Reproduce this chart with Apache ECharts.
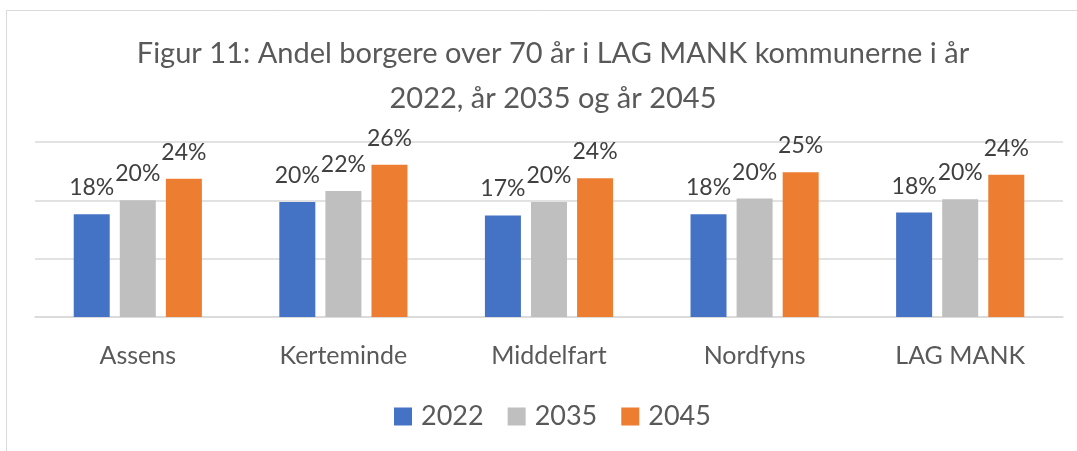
<!DOCTYPE html>
<html>
<head>
<meta charset="utf-8">
<script src="https://cdn.jsdelivr.net/npm/echarts@6/dist/echarts.min.js"></script>
<style>html,body{margin:0;padding:0;background:#fff}#c{width:1077px;height:451px}</style>
</head>
<body>
<div id="c"></div>
<script>
const categories = ['Assens', 'Kerteminde', 'Middelfart', 'Nordfyns', 'LAG MANK'];
const seriesNames = ['2022', '2035', '2045'];
const v2022 = [0.176, 0.197, 0.174, 0.176, 0.179];
const v2035 = [0.200, 0.216, 0.197, 0.203, 0.202];
const v2045 = [0.237, 0.261, 0.238, 0.248, 0.244];
const colors = ['#4472C4', '#BFBFBF', '#ED7D31'];
const titleText = 'Figur 11: Andel borgere over 70 år i LAG MANK kommunerne i år\n2022, år 2035 og år 2045';

const FONT = 'Lato';
const chart = echarts.init(document.getElementById('c'), null, {renderer: 'canvas'});
const mk = (name, data, i) => ({
  name, type: 'bar', data, barWidth: 36, barGap: '28%',
  itemStyle: {color: colors[i]},
  label: {show: true, position: 'top', distance: 15, color: '#404040', fontFamily: FONT, fontSize: 23,
    formatter: p => Math.round(p.value * 100) + '%'}
});
chart.setOption({
  animation: false,
  graphic: [{type: 'rect', shape: {x: 6.5, y: 10.5, width: 1200, height: 600}, style: {fill: 'none', stroke: '#D9D9D9', lineWidth: 1}}],
  title: {text: titleText, left: 548, textAlign: 'center', top: 26, textStyle: {fontFamily: FONT, fontSize: 29, fontWeight: 'normal', color: '#595959', lineHeight: 45}},
  legend: {data: seriesNames, bottom: 16, left: 389, itemWidth: 18, itemHeight: 18, itemGap: 24, icon: 'rect',
    textStyle: {fontFamily: FONT, fontSize: 27, color: '#595959', padding: [0, 0, 0, 4]}},
  grid: {left: 35, right: 14, top: 142, bottom: 134},
  xAxis: {type: 'category', data: categories, axisTick: {show: false},
    axisLine: {lineStyle: {color: '#D9D9D9', width: 1.5}},
    axisLabel: {fontFamily: FONT, fontSize: 25, color: '#595959', margin: 26}},
  yAxis: {type: 'value', min: 0, max: 0.3, interval: 0.1, axisLabel: {show: false},
    splitLine: {lineStyle: {color: '#D9D9D9', width: 1.5}}},
  series: [mk(seriesNames[0], v2022, 0), mk(seriesNames[1], v2035, 1), mk(seriesNames[2], v2045, 2)]
});
</script>
</body>
</html>
